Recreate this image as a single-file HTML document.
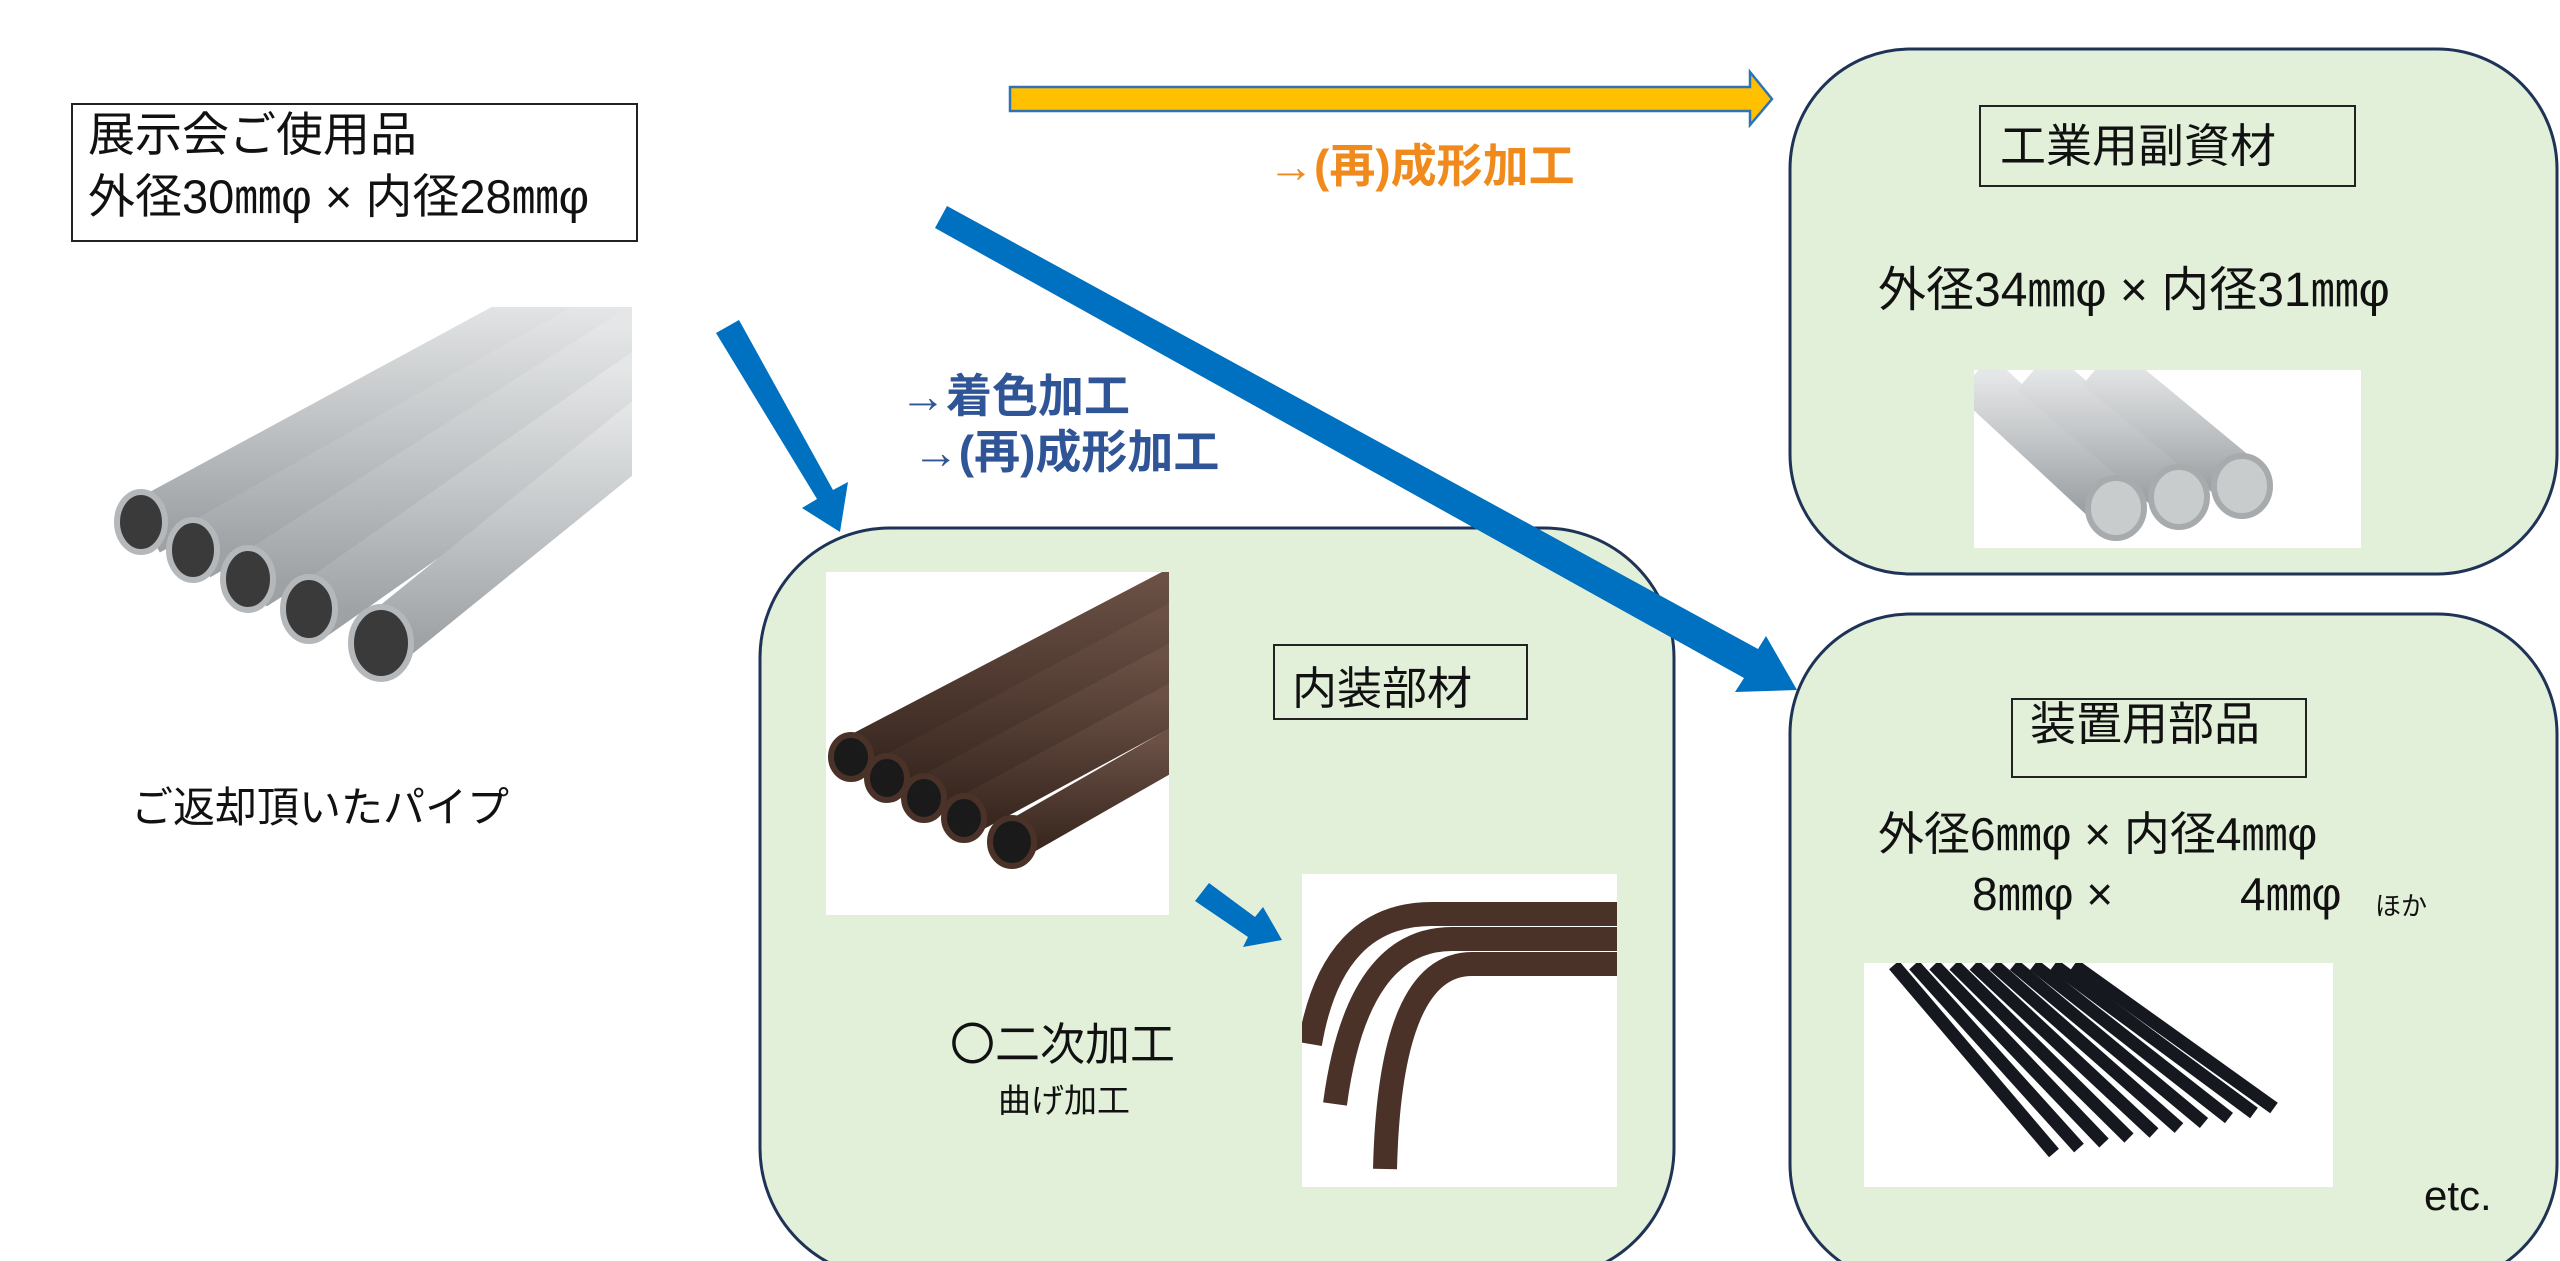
<!DOCTYPE html>
<html><head><meta charset="utf-8"><style>
html,body{margin:0;padding:0;background:#fff;}
body{width:2560px;height:1261px;overflow:hidden;position:relative;font-family:"Liberation Sans","Noto Sans CJK JP",sans-serif;}
.t{position:absolute;white-space:nowrap;color:#111;}
</style></head><body>
<svg width="2560" height="1261" style="position:absolute;left:0;top:0">
<defs>
<linearGradient id="gr" x1="0" y1="0" x2="0" y2="1"><stop offset="0" stop-color="#e4e6e7"/><stop offset="0.5" stop-color="#c3c6c8"/><stop offset="1" stop-color="#9ea2a5"/></linearGradient>
<linearGradient id="br" x1="0" y1="0" x2="0" y2="1"><stop offset="0" stop-color="#6a5045"/><stop offset="1" stop-color="#3a2820"/></linearGradient>
</defs>
<rect x="760" y="528" width="914" height="750" rx="130" fill="#e2efd9" stroke="#1f3356" stroke-width="3"/>
<rect x="1790" y="49" width="767" height="525" rx="120" fill="#e2efd9" stroke="#1f3356" stroke-width="3"/>
<rect x="1790" y="614" width="767" height="670" rx="120" fill="#e2efd9" stroke="#1f3356" stroke-width="3"/>
<rect x="72" y="104" width="565" height="137" fill="#fff" stroke="#222" stroke-width="2"/>
<rect x="1274" y="645" width="253" height="74" fill="none" stroke="#222" stroke-width="2"/>
<rect x="1980" y="106" width="375" height="80" fill="none" stroke="#222" stroke-width="2"/>
<rect x="2012" y="699" width="294" height="78" fill="none" stroke="#222" stroke-width="2"/>
<svg x="91" y="307" width="541" height="405">
<rect width="541" height="405" fill="#fff"/>
<g stroke="url(#gr)" stroke-width="58">
<line x1="55" y1="220" x2="480" y2="-10"/>
<line x1="105" y1="245" x2="540" y2="0"/>
<line x1="160" y1="275" x2="560" y2="20"/>
<line x1="220" y1="305" x2="570" y2="60"/>
<line x1="290" y1="335" x2="580" y2="100"/>
</g>
<g fill="#3a3a3a" stroke="#b5b8ba" stroke-width="6">
<ellipse cx="50" cy="215" rx="24" ry="30"/>
<ellipse cx="102" cy="243" rx="24" ry="30"/>
<ellipse cx="157" cy="272" rx="25" ry="31"/>
<ellipse cx="218" cy="302" rx="26" ry="32"/>
<ellipse cx="290" cy="336" rx="30" ry="36"/>
</g>
</svg>
<svg x="826" y="572" width="343" height="343">
<rect width="343" height="343" fill="#fff"/>
<g stroke="url(#br)" stroke-width="40">
<line x1="25" y1="185" x2="360" y2="10"/>
<line x1="60" y1="205" x2="360" y2="45"/>
<line x1="98" y1="225" x2="360" y2="85"/>
<line x1="138" y1="245" x2="360" y2="125"/>
<line x1="185" y1="270" x2="360" y2="170"/>
</g>
<g fill="#1a1a1a" stroke="#4a3228" stroke-width="6">
<ellipse cx="25" cy="185" rx="20" ry="22"/><ellipse cx="61" cy="206" rx="20" ry="22"/><ellipse cx="98" cy="226" rx="20" ry="22"/><ellipse cx="138" cy="246" rx="20" ry="22"/><ellipse cx="186" cy="270" rx="22" ry="24"/>
</g>
</svg>
<svg x="1302" y="874" width="315" height="313">
<rect width="315" height="313" fill="#fff"/>
<g fill="none" stroke="#4a3228" stroke-width="24">
<path d="M8 170 Q30 40 130 40 L320 40"/>
<path d="M33 230 Q55 65 150 65 L320 65"/>
<path d="M83 295 Q88 90 170 90 L320 90"/>
</g>
</svg>
<svg x="1974" y="370" width="387" height="178">
<rect width="387" height="178" fill="#fff"/>
<g stroke="url(#gr)" stroke-width="52">
<line x1="0" y1="5" x2="140" y2="135"/>
<line x1="60" y1="0" x2="205" y2="125"/>
<line x1="125" y1="-5" x2="270" y2="115"/>
</g>
<g fill="#c9cccd" stroke="#a7abad" stroke-width="6"><ellipse cx="142" cy="138" rx="28" ry="30"/><ellipse cx="205" cy="127" rx="28" ry="30"/><ellipse cx="268" cy="116" rx="28" ry="30"/></g>
</svg>
<svg x="1864" y="963" width="469" height="224">
<rect width="469" height="224" fill="#fff"/>
<g stroke="#15191f" stroke-width="13">
<line x1="30" y1="2" x2="190" y2="190"/><line x1="50" y1="2" x2="215" y2="185"/><line x1="70" y1="2" x2="240" y2="180"/><line x1="90" y1="2" x2="265" y2="175"/><line x1="110" y1="2" x2="290" y2="170"/><line x1="130" y1="2" x2="315" y2="165"/><line x1="150" y1="2" x2="340" y2="160"/><line x1="170" y1="2" x2="365" y2="155"/><line x1="190" y1="2" x2="390" y2="150"/><line x1="210" y1="2" x2="410" y2="145"/>
</g>
</svg>
<polygon points="1010,87 1750,87 1750,72 1772,99 1750,125 1750,111 1010,111" fill="#ffc000" stroke="#2e74b5" stroke-width="2.5"/>
<g fill="#0070c0">
<polygon points="716,333 739,320 833,490 848,482 840,532 802,508 817,499"/>
<polygon points="935,228 947,206 1758,649 1766,636 1797,690 1735,692 1744,678"/>
<polygon points="1195,901 1209,883 1255,917 1263,907 1282,940 1243,947 1248,937"/>
</g>
</svg>
<div class="t" style="left:88px;top:104px;font-size:47px;line-height:62px;">展示会ご使用品<br>外径30㎜φ × 内径28㎜φ</div>
<div class="t" style="left:131px;top:774px;font-size:42px;">ご返却頂いたパイプ</div>
<div class="t" style="left:1268px;top:130px;font-size:46px;font-weight:bold;color:#f08a1c;">→(再)成形加工</div>
<div class="t" style="left:900px;top:368px;font-size:46px;font-weight:bold;color:#2f5597;line-height:56px;">→着色加工<br>&nbsp;→(再)成形加工</div>
<div class="t" style="left:1292px;top:652px;font-size:45px;">内装部材</div>
<div class="t" style="left:950px;top:1008px;font-size:45px;">〇二次加工</div>
<div class="t" style="left:998px;top:1074px;font-size:33px;">曲げ加工</div>
<div class="t" style="left:2000px;top:110px;font-size:46px;">工業用副資材</div>
<div class="t" style="left:1878px;top:250px;font-size:48px;">外径34㎜φ × 内径31㎜φ</div>
<div class="t" style="left:2030px;top:688px;font-size:46px;">装置用部品</div>
<div class="t" style="left:1878px;top:798px;font-size:46px;">外径6㎜φ × 内径4㎜φ</div>
<div class="t" style="left:1972px;top:858px;font-size:46px;">8㎜φ ×</div>
<div class="t" style="left:2240px;top:858px;font-size:46px;">4㎜φ</div>
<div class="t" style="left:2375px;top:886px;font-size:26px;">ほか</div>
<div class="t" style="left:2424px;top:1172px;font-size:42px;">etc.</div>
</body></html>
